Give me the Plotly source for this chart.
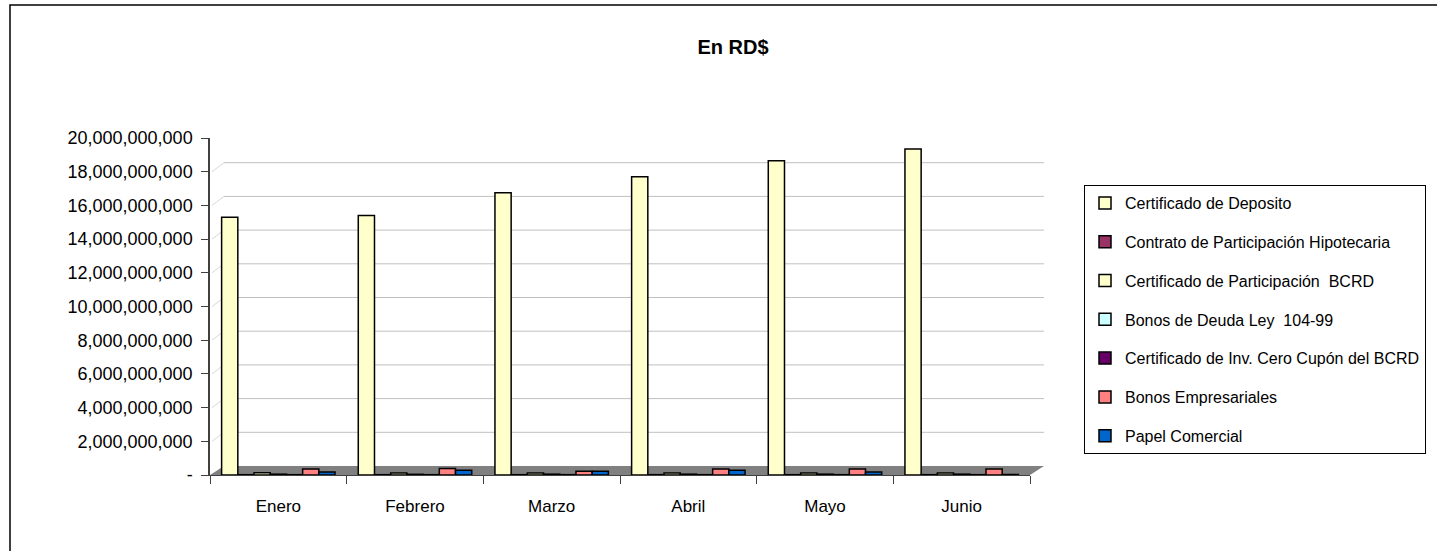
import plotly.graph_objects as go

W, H = 1437, 551
ML, MR, MT, MB = 210, 407, 138, 76
PW = W - ML - MR
PH = H - MT - MB

months = ["Enero", "Febrero", "Marzo", "Abril", "Mayo", "Junio"]

cert_deposito = [15.3e9, 15.4e9, 16.75e9, 17.7e9, 18.65e9, 19.35e9]
contrato_hipotecaria = [0.02e9, 0.02e9, 0.02e9, 0.02e9, 0.02e9, 0.02e9]
cert_part_bcrd = [0.13e9, 0.12e9, 0.12e9, 0.12e9, 0.12e9, 0.12e9]
bonos_deuda = [0.05e9, 0.04e9, 0.05e9, 0.05e9, 0.05e9, 0.05e9]
cero_cupon = [0.02e9, 0.02e9, 0.02e9, 0.02e9, 0.02e9, 0.02e9]
bonos_empresariales = [0.36e9, 0.38e9, 0.22e9, 0.36e9, 0.36e9, 0.36e9]
papel_comercial = [0.18e9, 0.28e9, 0.22e9, 0.28e9, 0.18e9, 0.03e9]

series_names = [
    "Certificado de Deposito",
    "Contrato de Participación Hipotecaria",
    "Certificado de Participación  BCRD",
    "Bonos de Deuda Ley  104-99",
    "Certificado de Inv. Cero Cupón del BCRD",
    "Bonos Empresariales",
    "Papel Comercial",
]
series_values = [cert_deposito, contrato_hipotecaria, cert_part_bcrd, bonos_deuda,
                 cero_cupon, bonos_empresariales, papel_comercial]
series_colors = ["#FFFFCC", "#993366", "#FFFFCC", "#CCFFFF", "#660066", "#FF8080", "#0066CC"]

tick_vals = [0, 2e9, 4e9, 6e9, 8e9, 10e9, 12e9, 14e9, 16e9, 18e9, 20e9]
tick_text = ["-", "2,000,000,000", "4,000,000,000", "6,000,000,000", "8,000,000,000",
             "10,000,000,000", "12,000,000,000", "14,000,000,000", "16,000,000,000",
             "18,000,000,000", "20,000,000,000"]

YMAX = 20e9
FONT = "Liberation Sans, Arial, sans-serif"


def px_x(px):
    return (px - ML) / PW


def px_y(py):
    return (H - MB - py) / PH


fig = go.Figure()
for i, (name, vals, col) in enumerate(zip(series_names, series_values, series_colors)):
    fig.add_trace(go.Bar(
        x=months, y=vals, name=name, legendgroup=f"g{i}",
        marker=dict(color=col, line=dict(color="black", width=1.5)),
    ))

shapes = []
DX, DY = 14, 9
dy_data = DY / PH * YMAX
# floor
shapes.append(dict(
    type="path", xref="paper", yref="paper", layer="below",
    path=(f"M {px_x(ML)} 0 L {px_x(ML + PW)} 0 "
          f"L {px_x(ML + PW + DX)} {DY / PH} L {px_x(ML + DX)} {DY / PH} Z"),
    fillcolor="#808080", line=dict(width=0),
))
# back-wall gridlines with connectors
for v in tick_vals[1:-1]:
    shapes.append(dict(type="line", xref="paper", yref="y", layer="below",
                       x0=px_x(ML + DX), x1=px_x(ML + PW + DX), y0=v + dy_data, y1=v + dy_data,
                       line=dict(color="#C0C0C0", width=1)))
for v in tick_vals[1:]:
    shapes.append(dict(type="line", xref="paper", yref="y", layer="below",
                       x0=px_x(ML + 2), x1=px_x(ML + DX), y0=v, y1=v + dy_data,
                       line=dict(color="#D8D8D8", width=1)))
# outer chart frame
shapes.append(dict(type="rect", xref="paper", yref="paper",
                   x0=px_x(10), x1=px_x(W + 10), y0=px_y(H + 10), y1=px_y(5),
                   line=dict(color="black", width=1.5), fillcolor="rgba(0,0,0,0)"))

fig.update_layout(
    width=W, height=H,
    margin=dict(l=ML, r=MR, t=MT, b=MB, autoexpand=False, pad=0),
    paper_bgcolor="white", plot_bgcolor="white",
    font=dict(family=FONT, size=16, color="black"),
    barmode="group", bargap=0.17, bargroupgap=0.0,
    title=dict(text="<b>En RD$</b>", x=733 / W, xref="container", xanchor="center",
               y=1 - 47 / H, yref="container", yanchor="middle",
               font=dict(family=FONT, size=20, color="black")),
    xaxis=dict(showgrid=False, showline=True, linecolor="#404040", linewidth=1,
               ticks="outside", ticklen=8, tickcolor="#404040", tickson="boundaries",
               ticklabelstandoff=16, tickfont=dict(size=17)),
    yaxis=dict(range=[0, YMAX], showgrid=False, zeroline=False, showline=True,
               linecolor="#404040", linewidth=1.5, ticks="outside", ticklen=7,
               tickcolor="#404040", tickvals=tick_vals, ticktext=tick_text,
               ticklabelstandoff=5, tickfont=dict(size=18)),
    legend=dict(x=px_x(1084), y=px_y(185), xref="paper", yref="paper",
                xanchor="left", yanchor="top", bordercolor="black", borderwidth=1,
                bgcolor="white", font=dict(size=16), tracegroupgap=15,
                itemclick=False, itemdoubleclick=False),
    shapes=shapes,
    showlegend=True,
)

fig.write_html("out.html", config={"displayModeBar": False},
               post_script="document.body.style.margin='0px';")
